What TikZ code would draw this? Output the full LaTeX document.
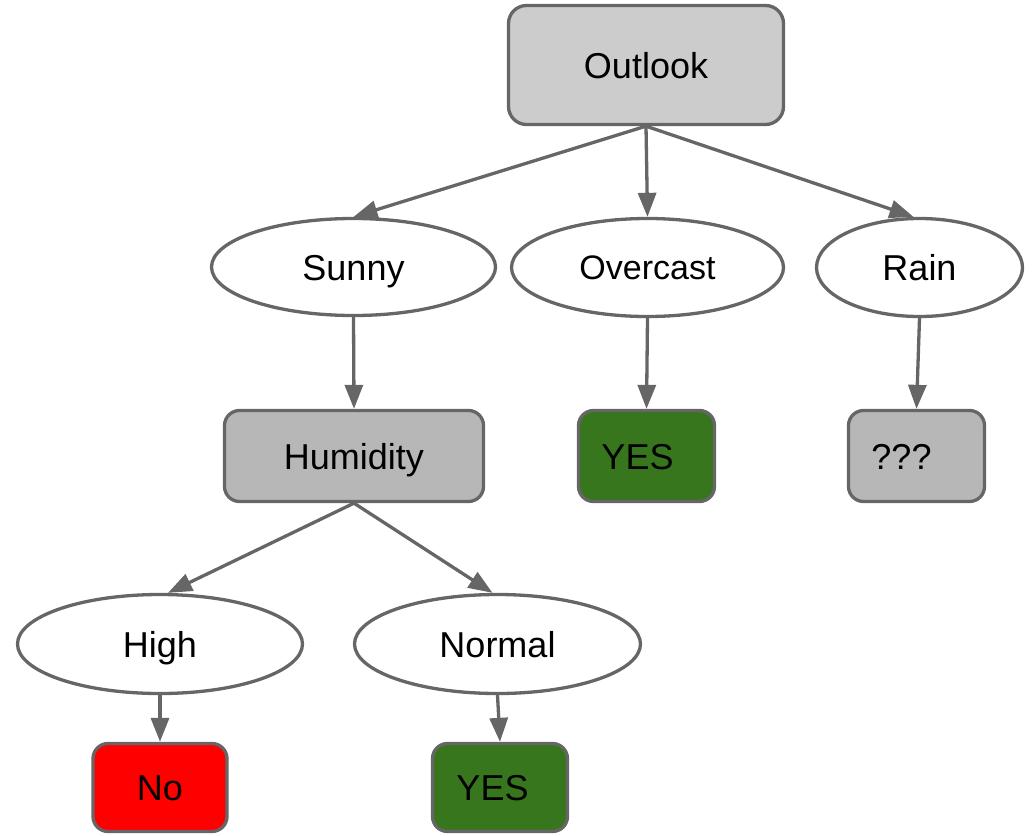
\documentclass[tikz,border=0pt]{standalone}
\usepackage{fontspec}
\setmainfont{Liberation Sans}
\usetikzlibrary{shapes.geometric,arrows.meta}
\definecolor{edgegray}{HTML}{666666}
\definecolor{rootgray}{HTML}{CCCCCC}
\definecolor{testgray}{HTML}{B7B7B7}
\definecolor{yesgreen}{HTML}{38761D}
\definecolor{nored}{HTML}{FF0000}
\begin{document}
\begin{tikzpicture}[x=1pt,y=-1pt,
  base/.style={draw=edgegray, line width=3.3pt, text=black,
    font=\fontsize{36}{43}\selectfont, text height=26pt, text depth=0pt, inner sep=0pt},
  box/.style={base, rectangle, rounded corners=15pt},
  oval/.style={base, ellipse, fill=white},
  link/.style={draw=edgegray, line width=3.3pt, -{Triangle[length=24pt,width=18pt]}}
]
\useasboundingbox (0,0) rectangle (1032,835);

% decision and leaf boxes
\node[box, rounded corners=18pt, fill=rootgray, minimum width=275pt, minimum height=119pt] (outlook) at (646,65) {Outlook};
\node[box, fill=testgray, minimum width=259pt, minimum height=91pt] (humidity) at (354,456) {Humidity};
\node[box, fill=yesgreen, minimum width=136pt, minimum height=91pt] (yesA) at (646.5,456) {\hspace*{-18pt}YES};
\node[box, fill=testgray, minimum width=136pt, minimum height=91pt] (unknown) at (916.5,456) {\hspace*{-30pt}???};
\node[box, fill=nored, minimum width=134pt, minimum height=88pt] (no) at (160,787.5) {No};
\node[box, fill=yesgreen, minimum width=135pt, minimum height=88pt] (yesB) at (500,787.5) {\hspace*{-15pt}YES};

% attribute values
\node[oval, minimum width=284pt, minimum height=97pt] (sunny) at (353.5,267) {Sunny};
\node[oval, minimum width=272pt, minimum height=98pt, font=\fontsize{34}{41}\selectfont, text height=24.5pt] (overcast) at (647.5,267.5) {Overcast};
\node[oval, minimum width=206pt, minimum height=98pt] (rain) at (919.5,267.5) {Rain};
\node[oval, minimum width=285pt, minimum height=99pt] (high) at (160,644) {High};
\node[oval, minimum width=286pt, minimum height=99pt] (normal) at (497.5,644) {Normal};

% connectors
\draw[link] (outlook.south) -- (sunny.north);
\draw[link] (outlook.south) -- (overcast.north);
\draw[link] (outlook.south) -- ([xshift=-6pt]rain.north);
\draw[link] (sunny.south) -- (humidity.north);
\draw[link] (overcast.south) -- (yesA.north);
\draw[link] (rain.south) -- (unknown.north);
\draw[link] (humidity.south) -- ([xshift=8pt]high.north);
\draw[link] (humidity.south) -- ([xshift=-5pt]normal.north);
\draw[link] (high.south) -- (no.north);
\draw[link] (normal.south) -- (yesB.north);
\end{tikzpicture}
\end{document}
